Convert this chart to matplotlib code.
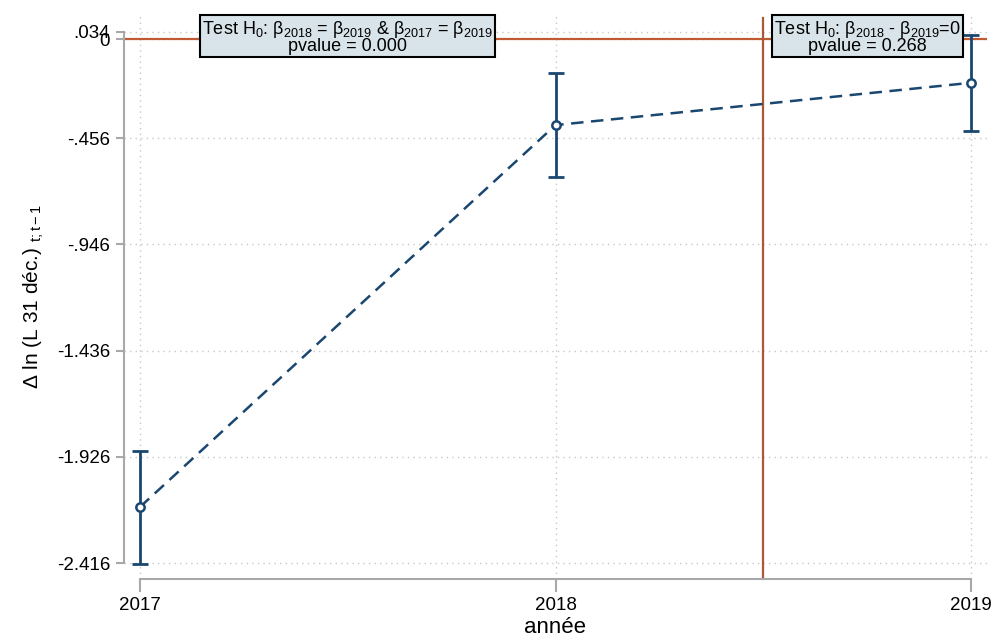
import matplotlib
matplotlib.use('Agg')
import matplotlib.pyplot as plt

# données
annees = [2017, 2018, 2019]
coef = [-2.157, -0.396, -0.201]
ci_bas = [-2.418, -0.635, -0.425]
ci_haut = [-1.899, -0.157, 0.019]

yticks = [0.034, 0, -0.456, -0.946, -1.436, -1.926, -2.416]
ytick_labels = ['.034', '0', '-.456', '-.946', '-1.436', '-1.926', '-2.416']
xticks = [2017, 2018, 2019]

plt.rcParams['font.family'] = ['Liberation Sans', 'DejaVu Sans']
plt.rcParams['mathtext.fontset'] = 'custom'
plt.rcParams['mathtext.rm'] = 'Liberation Sans'
plt.rcParams['mathtext.it'] = 'Liberation Sans'
plt.rcParams['mathtext.bf'] = 'Liberation Sans'

bleu = '#1a476f'
gris = '#a8a8a8'

fig = plt.figure(figsize=(9.95, 6.4), dpi=100)
ax = fig.add_axes([124 / 995, 1 - 579 / 640, (987 - 124) / 995, (579 - 15) / 640])

ax.set_xlim(2016.9615, 2019.0385)
ax.set_ylim(-2.489, 0.1116)

# grille pointillée
ax.set_axisbelow(True)
ax.grid(True, linestyle=(0, (1, 3)), color='#c8c8c8', linewidth=1)

# lignes de référence
ax.axhline(0, color='#bf5b32', linewidth=1.6, zorder=2)
ax.axvline(2018.5, ymin=0, ymax=0.995, color='#a9583a', linewidth=1.6, zorder=2)

# coefficients + intervalles
err_bas = [c - b for c, b in zip(coef, ci_bas)]
err_haut = [h - c for c, h in zip(coef, ci_haut)]
ax.errorbar(annees, coef, yerr=[err_bas, err_haut], fmt='none', ecolor=bleu,
            elinewidth=2, capsize=6, capthick=2, zorder=3)
ax.plot(annees, coef, linestyle=(0, (5, 3)), color=bleu, linewidth=1.8,
        marker='o', markersize=6, markerfacecolor='white',
        markeredgecolor=bleu, markeredgewidth=1.8, zorder=4)

# axes façon Stata
for s in ['top', 'right']:
    ax.spines[s].set_visible(False)
ax.spines['left'].set_bounds(-2.416, 0.034)
ax.spines['bottom'].set_bounds(2017, 2019)
ax.spines['left'].set_color(gris)
ax.spines['bottom'].set_color(gris)
ax.spines['left'].set_linewidth(1.5)
ax.spines['bottom'].set_linewidth(1.5)

ax.set_yticks(yticks)
ax.set_yticklabels(ytick_labels)
ax.set_xticks(xticks)
ax.set_xticklabels([str(a) for a in xticks])
ax.tick_params(axis='y', length=6, width=1.5, color=gris, labelsize=13.5, pad=4)
ax.tick_params(axis='x', length=9, width=1.5, color=gris, labelsize=13.5, pad=4)

ax.set_xlabel('année', fontsize=16, labelpad=2)
ax.set_ylabel(r'Δ ln (L 31 déc.) $_{t;t-1}$', fontsize=15, labelpad=8)

# encadrés des tests
boite = dict(boxstyle='square,pad=0.12', facecolor='#d9e4ea', edgecolor='black', linewidth=1.5)
ax.text(2017.5, 0.092,
        'Test H$_0$: β$_{2018}$ = β$_{2019}$ & β$_{2017}$ = β$_{2019}$\npvalue = 0.000',
        ha='center', va='top', fontsize=13, linespacing=0.8, bbox=boite, zorder=5)
ax.text(2018.75, 0.092,
        'Test H$_0$: β$_{2018}$ - β$_{2019}$=0\npvalue = 0.268',
        ha='center', va='top', fontsize=13, linespacing=0.8, bbox=boite, zorder=5)

fig.savefig('out.png', dpi=100)
plt.close(fig)
